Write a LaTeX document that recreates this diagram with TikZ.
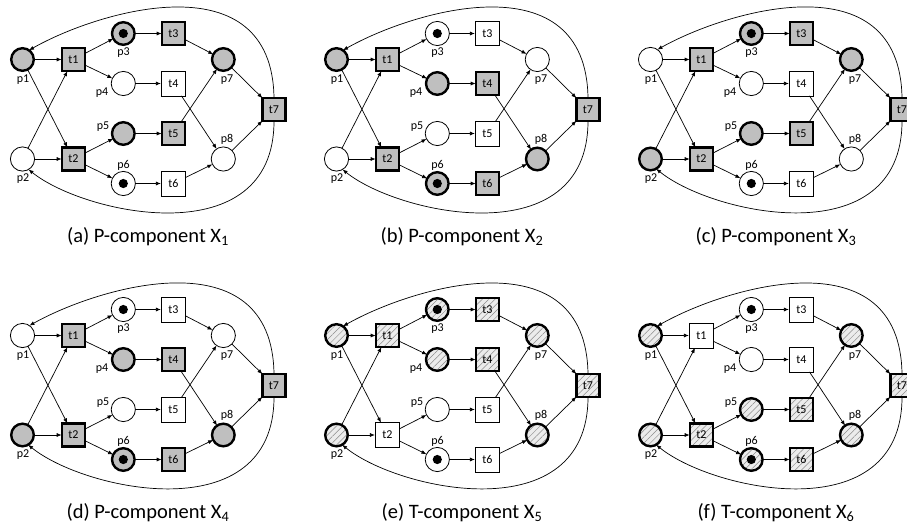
\documentclass[tikz,border=0pt]{standalone}
\usepackage{fontspec}
\setmainfont{Carlito}
\usetikzlibrary{arrows.meta,patterns.meta}
\definecolor{gfill}{RGB}{191,191,191}
\definecolor{hfill}{RGB}{236,236,236}
\definecolor{hline}{RGB}{140,140,140}
\tikzset{
  nbase/.style={inner sep=0pt, outer sep=0pt, font=\fontsize{12}{12}\selectfont},
  pshape/.style={nbase, circle, draw},
  tshape/.style={nbase, rectangle, draw},
  place/.style={pshape, line width=0.8pt, minimum size=24.2pt, fill=white},
  placeG/.style={pshape, line width=2.4pt, minimum size=22.6pt, fill=gfill},
  placeH/.style={pshape, line width=2.4pt, minimum size=22.6pt, preaction={fill=hfill},
    pattern={Lines[angle=45,distance=4.5pt,line width=0.5pt]}, pattern color=hline},
  trans/.style={tshape, line width=0.8pt, minimum size=24.8pt, fill=white},
  transG/.style={tshape, line width=2.4pt, minimum size=23.2pt, fill=gfill},
  transH/.style={tshape, line width=2.4pt, minimum size=23.2pt, preaction={fill=hfill},
    pattern={Lines[angle=45,distance=4.5pt,line width=0.5pt]}, pattern color=hline},
  tok/.style={path picture={\fill[black] (path picture bounding box.center) circle (4.6pt);}},
  pnarc/.style={-{Latex[length=5pt,width=4pt]}, line width=0.7pt},
  lbl/.style={font=\fontsize{12}{12}\selectfont, inner sep=0pt},
  captxt/.style={font=\fontsize{20.5}{20.5}\selectfont, inner sep=0pt}
}
\newcommand\pnet[4]{%
\begin{scope}[shift={(#2,#3)}]
  \node[np1] (#1p1) at (22.5,59.5) {};
  \node[np2] (#1p2) at (22.5,159) {};
  \node[np3] (#1p3) at (123.3,33.5) {};
  \node[np4] (#1p4) at (123.3,83.5) {};
  \node[np5] (#1p5) at (123.3,133.5) {};
  \node[np6] (#1p6) at (123.3,183.5) {};
  \node[np7] (#1p7) at (223.3,59.5) {};
  \node[np8] (#1p8) at (223.3,159) {};
  \node[nt1] (#1t1) at (73.3,59.5) {t1};
  \node[nt2] (#1t2) at (73.3,159) {t2};
  \node[nt3] (#1t3) at (173.3,33.5) {t3};
  \node[nt4] (#1t4) at (173.3,83.5) {t4};
  \node[nt5] (#1t5) at (173.3,133.5) {t5};
  \node[nt6] (#1t6) at (173.3,183.5) {t6};
  \node[nt7] (#1t7) at (274,109.5) {t7};
  \node[lbl] (#1l1) at (23,80) {p1};
  \node[lbl] (#1l2) at (23,179) {p2};
  \node[lbl] (#1l3) at (123.5,53) {p3};
  \node[lbl] (#1l4) at (102,93) {p4};
  \node[lbl] (#1l5) at (103,127) {p5};
  \node[lbl] (#1l6) at (123.5,165) {p6};
  \node[lbl] (#1l7) at (227,80) {p7};
  \node[lbl] (#1l8) at (227,139.5) {p8};
  \draw[pnarc] (#1p1) -- (#1t1);
  \draw[pnarc] (#1p1) -- (#1t2);
  \draw[pnarc] (#1p2) -- (#1t2);
  \draw[pnarc] (#1p2) -- (#1t1);
  \draw[pnarc] (#1t1) -- (#1p3);
  \draw[pnarc] (#1t1) -- (#1p4);
  \draw[pnarc] (#1t2) -- (#1p5);
  \draw[pnarc] (#1t2) -- (#1p6);
  \draw[pnarc] (#1p3) -- (#1t3);
  \draw[pnarc] (#1p4) -- (#1t4);
  \draw[pnarc] (#1p5) -- (#1t5);
  \draw[pnarc] (#1p6) -- (#1t6);
  \draw[pnarc] (#1t3) -- (#1p7);
  \draw[pnarc] (#1t4) -- (#1p8);
  \draw[pnarc] (#1t5) -- (#1p7);
  \draw[pnarc] (#1t6) -- (#1p8);
  \draw[pnarc] (#1p7) -- (#1t7);
  \draw[pnarc] (#1p8) -- (#1t7);
  \draw[pnarc] (#1t7.north) .. controls (272,-40) and (100,10) .. (#1p1.55);
  \draw[pnarc] (#1t7.south) .. controls (274,255) and (85,215) .. (#1p2.-60);
  \node[captxt] (#1cap) at (148,237) {#4};
\end{scope}}
\begin{document}
\begin{tikzpicture}[x=1pt,y=-1pt]
\clip (0,0) rectangle (907,527);
\fill[white] (0,0) rectangle (907,527);
% (a)
\tikzset{np1/.style=placeG, np2/.style=place, np3/.style={placeG,tok}, np4/.style=place,
  np5/.style=placeG, np6/.style={place,tok}, np7/.style=placeG, np8/.style=place,
  nt1/.style=transG, nt2/.style=transG, nt3/.style=transG, nt4/.style=trans,
  nt5/.style=transG, nt6/.style=trans, nt7/.style=transG}
\pnet{a}{0}{0}{(a) P-component X\textsubscript{1}}
% (b)
\tikzset{np1/.style=placeG, np2/.style=place, np3/.style={place,tok}, np4/.style=placeG,
  np5/.style=place, np6/.style={placeG,tok}, np7/.style=place, np8/.style=placeG,
  nt1/.style=transG, nt2/.style=transG, nt3/.style=trans, nt4/.style=transG,
  nt5/.style=trans, nt6/.style=transG, nt7/.style=transG}
\pnet{b}{314}{0}{(b) P-component X\textsubscript{2}}
% (c)
\tikzset{np1/.style=place, np2/.style=placeG, np3/.style={placeG,tok}, np4/.style=place,
  np5/.style=placeG, np6/.style={place,tok}, np7/.style=placeG, np8/.style=place,
  nt1/.style=transG, nt2/.style=transG, nt3/.style=transG, nt4/.style=trans,
  nt5/.style=transG, nt6/.style=trans, nt7/.style=transG}
\pnet{c}{628}{0}{(c) P-component X\textsubscript{3}}
% (d)
\tikzset{np1/.style=place, np2/.style=placeG, np3/.style={place,tok}, np4/.style=placeG,
  np5/.style=place, np6/.style={placeG,tok}, np7/.style=place, np8/.style=placeG,
  nt1/.style=transG, nt2/.style=transG, nt3/.style=trans, nt4/.style=transG,
  nt5/.style=trans, nt6/.style=transG, nt7/.style=transG}
\pnet{d}{0}{276}{(d) P-component X\textsubscript{4}}
% (e)
\tikzset{np1/.style=placeH, np2/.style=placeH, np3/.style={placeH,tok}, np4/.style=placeH,
  np5/.style=place, np6/.style={place,tok}, np7/.style=placeH, np8/.style=placeH,
  nt1/.style=transH, nt2/.style=trans, nt3/.style=transH, nt4/.style=transH,
  nt5/.style=trans, nt6/.style=trans, nt7/.style=transH}
\pnet{e}{314}{276}{(e) T-component X\textsubscript{5}}
% (f)
\tikzset{np1/.style=placeH, np2/.style=placeH, np3/.style={place,tok}, np4/.style=place,
  np5/.style=placeH, np6/.style={placeH,tok}, np7/.style=placeH, np8/.style=placeH,
  nt1/.style=trans, nt2/.style=transH, nt3/.style=trans, nt4/.style=trans,
  nt5/.style=transH, nt6/.style=transH, nt7/.style=transH}
\pnet{f}{628}{276}{(f) T-component X\textsubscript{6}}
\end{tikzpicture}
\end{document}
